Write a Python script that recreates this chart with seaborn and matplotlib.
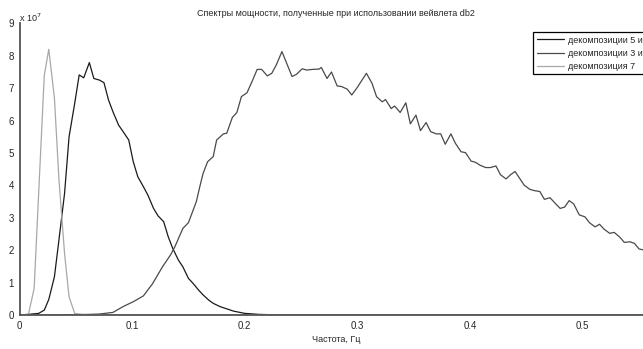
#!/usr/bin/env python3
import pandas as pd
import matplotlib
matplotlib.use('Agg')
import matplotlib.pyplot as plt
import seaborn as sns

# ─── Data (values in units of 1e7) ─────────────────────────────────────────────
# декомпозиции 5 и 6
F56 = [0.0, 0.002, 0.017, 0.022, 0.026, 0.031, 0.035, 0.040, 0.044, 0.049,
       0.053, 0.057, 0.062, 0.066, 0.071, 0.075, 0.079, 0.083, 0.088, 0.092,
       0.097, 0.101, 0.105, 0.110, 0.114, 0.119, 0.123, 0.128, 0.132, 0.136,
       0.141, 0.145, 0.150, 0.154, 0.159, 0.163, 0.168, 0.172, 0.178, 0.190,
       0.200, 0.212, 0.231, 0.300, 0.400, 0.500, 0.600]
P56 = [0.0, 0.0, 0.05, 0.15, 0.48, 1.18, 2.31, 3.75, 5.5, 6.53,
       7.41, 7.32, 7.79, 7.30, 7.25, 7.17, 6.64, 6.27, 5.86, 5.66,
       5.40, 4.73, 4.27, 3.96, 3.70, 3.29, 3.06, 2.88, 2.42, 2.06,
       1.70, 1.49, 1.13, 0.98, 0.77, 0.62, 0.46, 0.36, 0.26, 0.12,
       0.05, 0.02, 0.0, 0.0, 0.0, 0.0, 0.0]

# декомпозиции 3 и 4
F34 = [0.0, 0.036, 0.063, 0.071, 0.083, 0.092, 0.101, 0.110, 0.118, 0.127,
       0.134, 0.138, 0.145, 0.150, 0.157, 0.160, 0.163, 0.167, 0.172, 0.175,
       0.181, 0.184, 0.189, 0.193, 0.197, 0.202, 0.207, 0.211, 0.215, 0.220,
       0.224, 0.228, 0.233, 0.242, 0.246, 0.251, 0.255, 0.260, 0.266, 0.268,
       0.273, 0.277, 0.282, 0.286, 0.291, 0.295, 0.300, 0.308, 0.313, 0.317,
       0.322, 0.325, 0.330, 0.333, 0.338, 0.343, 0.347, 0.352, 0.356, 0.361,
       0.365, 0.370, 0.374, 0.378, 0.383, 0.387, 0.392, 0.396, 0.401, 0.405,
       0.409, 0.414, 0.418, 0.423, 0.427, 0.432, 0.436, 0.440, 0.444, 0.448,
       0.453, 0.457, 0.462, 0.466, 0.471, 0.475, 0.480, 0.484, 0.488, 0.492,
       0.497, 0.502, 0.506, 0.511, 0.515, 0.519, 0.524, 0.528, 0.533, 0.537,
       0.542, 0.546, 0.550, 0.555, 0.560, 0.565]
P34 = [0.0, 0.0, 0.02, 0.03, 0.08, 0.26, 0.41, 0.59, 0.96, 1.49,
       1.85, 2.11, 2.67, 2.85, 3.50, 3.95, 4.37, 4.73, 4.89, 5.40,
       5.59, 5.61, 6.10, 6.25, 6.74, 6.86, 7.25, 7.58, 7.58, 7.38,
       7.46, 7.72, 8.13, 7.36, 7.43, 7.60, 7.56, 7.58, 7.59, 7.64,
       7.30, 7.50, 7.07, 7.05, 6.97, 6.79, 7.03, 7.46, 7.15, 6.74,
       6.58, 6.65, 6.37, 6.45, 6.25, 6.55, 5.90, 6.17, 5.69, 5.94,
       5.66, 5.59, 5.59, 5.27, 5.59, 5.30, 5.04, 5.01, 4.75, 4.71,
       4.62, 4.55, 4.55, 4.60, 4.33, 4.20, 4.33, 4.43, 4.22, 4.01,
       3.88, 3.84, 3.81, 3.57, 3.62, 3.47, 3.29, 3.33, 3.53, 3.43,
       3.09, 3.03, 2.85, 2.72, 2.80, 2.65, 2.52, 2.55, 2.40, 2.24,
       2.26, 2.21, 2.04, 2.00, 1.95, 1.90]

# декомпозиция 7
F7 = [0.0, 0.002, 0.008, 0.013, 0.022, 0.026, 0.031, 0.035, 0.040, 0.044,
      0.049, 0.060, 0.200, 0.400, 0.600]
P7 = [0.0, 0.0, 0.03, 0.82, 7.40, 8.20, 6.70, 4.20, 1.90, 0.56,
      0.05, 0.0, 0.0, 0.0, 0.0]

LABELS = ['декомпозиции 5 и 6', 'декомпозиции 3 и 4', 'декомпозиция 7']
COLORS = ['#1a1a1a', '#4a4a4a', '#a8a8a8']
TITLE = 'Спектры мощности, полученные при использовании вейвлета db2'
XLABEL = 'Частота, Гц'
XTICKS = [0, 0.1, 0.2, 0.3, 0.4, 0.5]
XTICKLABELS = ['0', '0.1', '0.2', '0.3', '0.4', '0.5']
YTICKS = [0, 1, 2, 3, 4, 5, 6, 7, 8, 9]

# ─── Figure ───────────────────────────────────────────────────────────────────
sns.set_style('white')
plt.rcParams['font.family'] = ['Liberation Sans', 'DejaVu Sans']

W, H = 643, 349
fig = plt.figure(figsize=(W / 100, H / 100), dpi=100)
# MATLAB-like axes; right part falls outside the saved picture (as in the source)
ax = fig.add_axes([19.5 / W, 34 / H, 633 / W, 291.6 / H])

series = [(F56, P56), (F34, P34), (F7, P7)]
for (f, p), lab, col in zip(series, LABELS, COLORS):
    df = pd.DataFrame({'f': f, 'p': p})
    sns.lineplot(data=df, x='f', y='p', ax=ax, color=col, lw=0.9,
                 label=lab, sort=False)

ax.set_xlim(0, 0.562)
ax.set_ylim(0, 9)
ax.set_xticks(XTICKS)
ax.set_xticklabels(XTICKLABELS)
ax.set_yticks(YTICKS)
ax.set_xlabel('')
ax.set_ylabel('')
ax.tick_params(direction='in', length=5, width=0.8, color='#222',
               labelsize=7, pad=4)

for s in ['top', 'right']:
    ax.spines[s].set_visible(False)
for s in ['left', 'bottom']:
    ax.spines[s].set_color('#555')
    ax.spines[s].set_linewidth(1.3)

leg = ax.legend(loc='upper left', bbox_to_anchor=(533 / W, 1 - 32 / H),
                bbox_transform=fig.transFigure, fontsize=6.5, frameon=True,
                fancybox=False, framealpha=1, borderpad=0.4,
                handlelength=3.0, handletextpad=0.5, labelspacing=0.45,
                borderaxespad=0)
leg.get_frame().set_edgecolor('black')
leg.get_frame().set_linewidth(0.9)

fig.text(336 / W, 1 - 13 / H, TITLE, ha='center', va='center', fontsize=6.5)
fig.text(336 / W, 1 - 340 / H, XLABEL, ha='center', va='center', fontsize=6.5)
fig.text(19 / W, 1 - 22 / H, r'x 10$^{7}$', ha='left', va='baseline',
         fontsize=6.5)

fig.savefig('out.png', dpi=100)
